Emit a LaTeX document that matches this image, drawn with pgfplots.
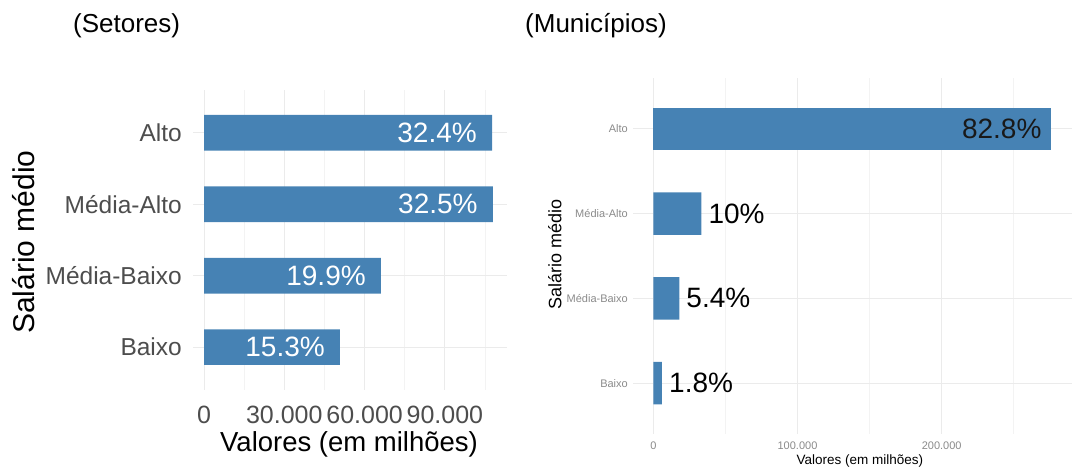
\documentclass[border=0pt]{standalone}
\usepackage{pgfplots}
\pgfplotsset{compat=1.18}
\usepackage{fontspec}
\setmainfont{Liberation Sans}
\definecolor{barblue}{HTML}{4682B4}
\definecolor{gridmaj}{HTML}{EBEBEB}
\definecolor{gridmin}{HTML}{F3F3F3}
\definecolor{tickdark}{HTML}{4D4D4D}
\definecolor{ticklight}{HTML}{8A8A8A}
\newcommand{\fs}[1]{\fontsize{#1}{#1}\selectfont}
\pgfplotsset{
  ggbase/.style={
    scale only axis, anchor=north west,
    ymin=0.4, ymax=4.6, scaled x ticks=false,
    axis line style={draw=none}, major tick length=0pt, minor tick length=0pt,
    ytick={1,2,3,4}, yticklabels={Baixo,Média-Baixo,Média-Alto,Alto},
    xmajorgrids, xminorgrids, ymajorgrids,
    major grid style={draw=gridmaj, line width=1pt},
    minor grid style={draw=gridmin, line width=0.6pt},
    xlabel={Valores (em milhões)}, ylabel={Salário médio},
  },
}
\begin{document}
\begin{tikzpicture}
\useasboundingbox (0pt,0pt) rectangle (1077pt,-468pt);
\node[anchor=base west, inner sep=0pt, font=\fs{26}] at (73pt,-33pt) {(Setores)};
\node[anchor=base west, inner sep=0pt, font=\fs{26}] at (525pt,-33pt) {(Municípios)};

% ---------- Setores ----------
\begin{axis}[ggbase,
  at={(193pt,-90pt)}, width=314pt, height=300pt,
  xmin=-4110, xmax=113200,
  xtick={0,30000,60000,90000}, xticklabels={0,30.000,60.000,90.000},
  minor xtick={15000,45000,75000,105000},
  xticklabel style={anchor=center, inner sep=0pt, yshift=-25pt, font=\fs{25}, text=tickdark},
  yticklabel style={anchor=east, inner sep=0pt, xshift=-11pt, font=\fs{24.5}, text=tickdark},
  xlabel style={at={(axis description cs:0.497,-0.18)}, anchor=center, inner sep=0pt, font=\fs{27.5}},
  ylabel style={at={(axis description cs:-0.541,0.493)}, anchor=center, inner sep=0pt, font=\fs{30}},
]
\addplot[xbar, bar width=0.5, bar shift=0pt, fill=barblue, draw=none,
  point meta=explicit symbolic, nodes near coords,
  every node near coord/.style={anchor=east, inner sep=0pt, xshift=-15pt, font=\fs{28}, text=white}]
  coordinates {(50800,1) [15.3\%] (66100,2) [19.9\%] (107900,3) [32.5\%] (107600,4) [32.4\%]};
\end{axis}

% ---------- Municipios ----------
\begin{axis}[ggbase,
  at={(633pt,-78pt)}, width=439pt, height=356pt,
  xmin=-14100, xmax=290400,
  xtick={0,100000,200000}, xticklabels={0,100.000,200.000},
  minor xtick={50000,150000,250000},
  xticklabel style={anchor=center, inner sep=0pt, yshift=-12pt, font=\fs{11}, text=ticklight},
  yticklabel style={anchor=east, inner sep=0pt, xshift=-5pt, font=\fs{11}, text=ticklight},
  xlabel style={at={(axis description cs:0.517,-0.0765)}, anchor=center, inner sep=0pt, font=\fs{13.5}},
  ylabel style={at={(axis description cs:-0.178,0.503)}, anchor=center, inner sep=0pt, font=\fs{18}},
]
\addplot[xbar, bar width=0.5, bar shift=0pt, fill=barblue, draw=none,
  point meta=explicit symbolic, nodes near coords,
  every node near coord/.style={anchor=east, inner sep=0pt, xshift=-9pt, font=\fs{28}, text=black!90}]
  coordinates {(275600,4) [82.8\%]};
\addplot[xbar, bar width=0.5, bar shift=0pt, fill=barblue, draw=none,
  point meta=explicit symbolic, nodes near coords,
  every node near coord/.style={anchor=west, inner sep=0pt, xshift=7pt, font=\fs{28}, text=black}]
  coordinates {(6000,1) [1.8\%] (18000,2) [5.4\%] (33300,3) [10\%]};
\end{axis}
\end{tikzpicture}
\end{document}
